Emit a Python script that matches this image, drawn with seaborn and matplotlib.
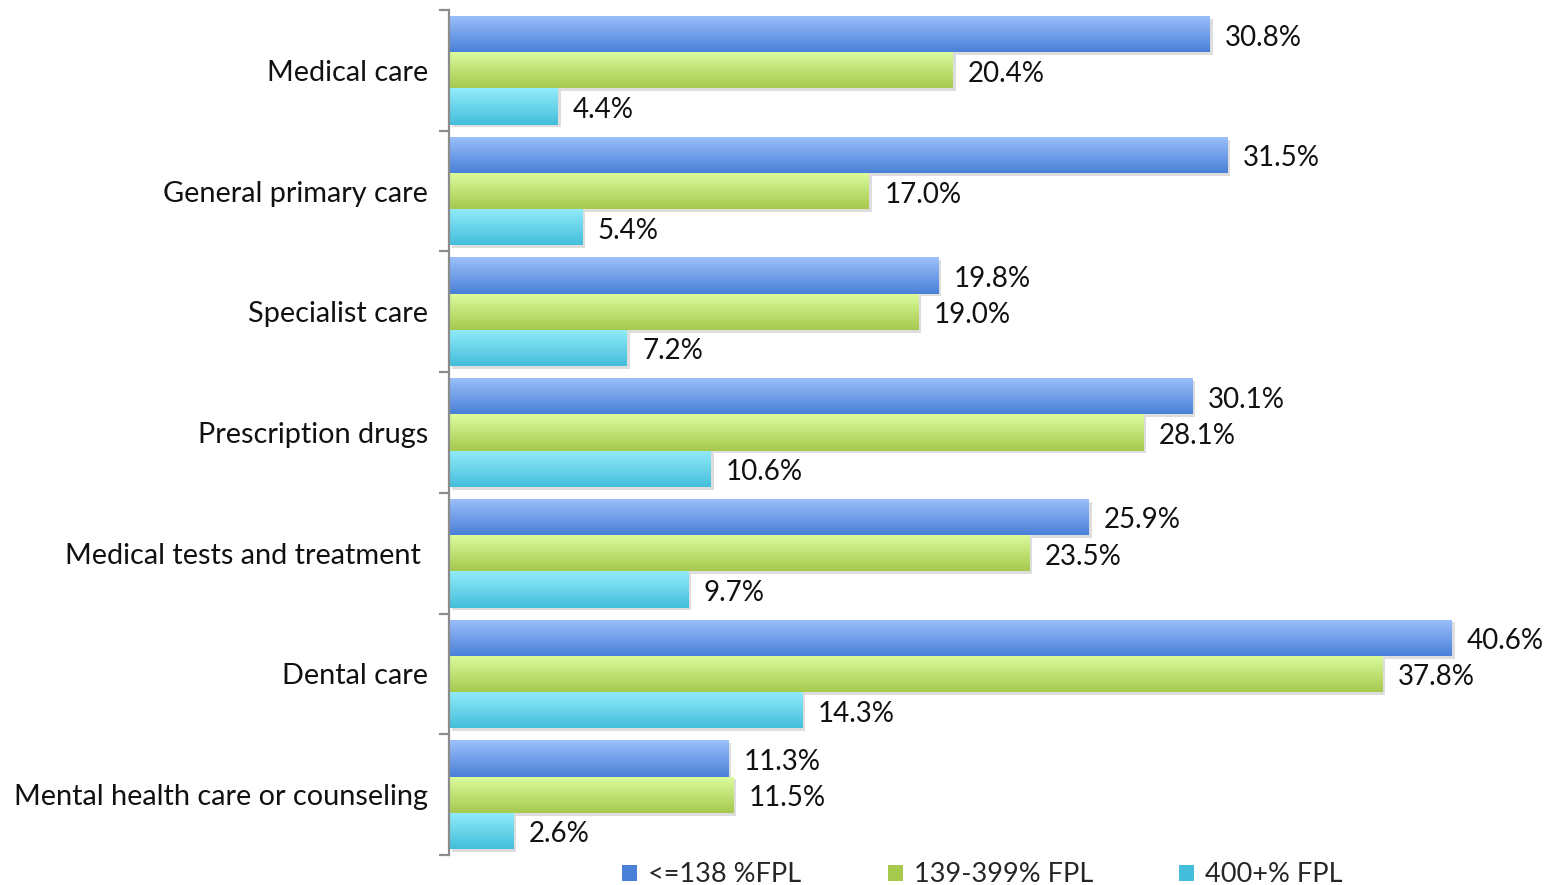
import numpy as np
import pandas as pd
import matplotlib
matplotlib.use("Agg")
import matplotlib.pyplot as plt
import matplotlib.patheffects as pe
from matplotlib.colors import LinearSegmentedColormap
from matplotlib.patches import Patch
import seaborn as sns

categories = [
    "Medical care",
    "General primary care",
    "Specialist care",
    "Prescription drugs",
    "Medical tests and treatment ",
    "Dental care",
    "Mental health care or counseling",
]
groups = ["<=138 %FPL", "139-399% FPL", "400+% FPL"]
low_income = [30.8, 31.5, 19.8, 30.1, 25.9, 40.6, 11.3]
mid_income = [20.4, 17.0, 19.0, 28.1, 23.5, 37.8, 11.5]
high_income = [4.4, 5.4, 7.2, 10.6, 9.7, 14.3, 2.6]

df = pd.DataFrame({
    "category": categories * 3,
    "group": [groups[0]] * 7 + [groups[1]] * 7 + [groups[2]] * 7,
    "value": low_income + mid_income + high_income,
})

# top / bottom shades of each bar gradient
shades = {
    groups[0]: ("#9cc0fb", "#4a80d8"),
    groups[1]: ("#dcfc9e", "#a6c94e"),
    groups[2]: ("#92ecfa", "#44bedb"),
}
mid_colors = {g: c[1] for g, c in shades.items()}

sns.set_theme(style="white")
plt.rcParams["font.family"] = ["Lato", "DejaVu Sans"]

fig = plt.figure(figsize=(15.62, 8.85), dpi=100)
ax = fig.add_axes([0.2875, 0.0339, 0.7125, 0.9548])

sns.barplot(data=df, y="category", x="value", hue="group", hue_order=groups,
            order=categories, orient="h", width=0.9, palette=mid_colors,
            legend=False, ax=ax, errorbar=None, saturation=1)

ax.set_xlim(0, 45.06)
ax.set_ylim(6.5, -0.5)

grad = np.linspace(0, 1, 64).reshape(-1, 1)
for container, g in zip(ax.containers, groups):
    cmap = LinearSegmentedColormap.from_list(g, [shades[g][0], shades[g][1]])
    for bar in container:
        bar.set_edgecolor("none")
        bar.set_path_effects([pe.SimplePatchShadow(offset=(2, -2), alpha=0.18,
                                                   shadow_rgbFace="#444444"),
                              pe.Normal()])
        x0, y0 = bar.get_x(), bar.get_y()
        w, h = bar.get_width(), bar.get_height()
        im = ax.imshow(grad, cmap=cmap, aspect="auto",
                       extent=(x0, x0 + w, y0 + h, y0), zorder=bar.get_zorder() + 0.1,
                       interpolation="bicubic")
        im.set_clip_path(bar)
    texts = ax.bar_label(container, labels=[f"{v:.1f}%" for v in container.datavalues],
                         padding=11, fontsize=20, color="#111111")
    for t in texts:
        t.xyann = (t.xyann[0], -2.5)

ax.set_xlim(0, 45.06)
ax.set_ylim(6.5, -0.5)
ax.set_xlabel("")
ax.set_ylabel("")
ax.set_xticks([])

for s in ["top", "right", "bottom"]:
    ax.spines[s].set_visible(False)
ax.spines["left"].set_color("#8c8c8c")
ax.spines["left"].set_linewidth(1.6)

ax.tick_params(axis="y", which="major", length=0, pad=15, labelsize=20.8,
               labelcolor="#111111")
ax.set_yticks(np.arange(-0.5, 7.0, 1.0), minor=True)
ax.tick_params(axis="y", which="minor", length=7, width=1.6, color="#8c8c8c",
               left=True)

handles = [Patch(facecolor=mid_colors[g], edgecolor="none") for g in groups]
fig.legend(handles, groups, loc="center", bbox_to_anchor=(0.629, 0.0115), ncol=3,
           frameon=False, fontsize=19.5, handlelength=0.55, handleheight=0.55,
           handletextpad=0.4, columnspacing=3.2, borderpad=0)

fig.savefig("out.png", dpi=100)
